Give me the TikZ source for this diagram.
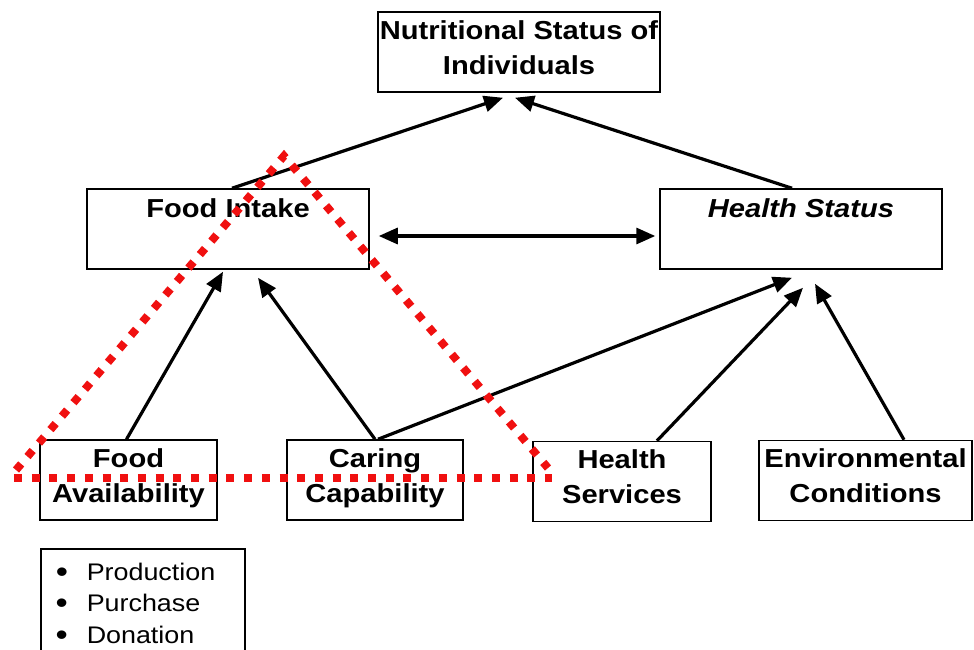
\documentclass[tikz,border=0pt]{standalone}
\usepackage{fontspec}
\setmainfont{Liberation Sans}[FakeStretch=1.12]
\usetikzlibrary{arrows.meta}
\newcommand{\srcitem}{\makebox[31pt][l]{\raisebox{-2pt}{\scalebox{1.3}{•}}}}
\begin{document}
\begin{tikzpicture}[x=1pt,y=-1pt,
  box/.style={draw=black, line width=1.5pt, inner sep=0pt,
    font=\fontsize{26}{35}\selectfont\bfseries, align=center},
  topbox/.style={box, minimum width=282pt, text height=28pt, text depth=52pt},
  lowbox/.style={box, minimum height=80pt, text height=54pt, text depth=10pt},
  tip/.tip={Triangle[length=19pt,width=16pt]},
  link/.style={line width=3.2pt, -tip},
  zone/.style={draw={rgb,255:red,240;green,16;blue,16}, line width=8pt,
    dash pattern=on 8pt off 9.7pt}
]
\useasboundingbox (0,0) rectangle (974,650);

% outcome and its two direct determinants
\node[box, minimum width=282pt, minimum height=80pt, text depth=8pt] (nut) at (519,52)
  {Nutritional Status of\\Individuals};
\node[topbox] (fi) at (228,229) {Food Intake};
\node[topbox, font=\fontsize{26}{35}\selectfont\bfseries\itshape] (hs) at (801,229)
  {Health Status};

% underlying determinants
\node[lowbox, minimum width=177pt] (fa)  at (128.5,480)  {Food\\Availability};
\node[lowbox, minimum width=176pt] (cc)  at (375,480)    {Caring\\Capability};
\node[lowbox, minimum width=178pt] (hsv) at (622,481.5)  {Health\\Services};
\node[lowbox, minimum width=213pt] (env) at (865.5,480.5) {Environmental\\Conditions};

% sources of food availability
\node[draw=black, line width=1.5pt, anchor=north west, inner xsep=15pt, inner ysep=14pt,
  text width=174pt, align=left, font=\fontsize{24}{31.5}\selectfont] (src) at (40,548)
  {\srcitem Production\\
   \srcitem Purchase\\
   \srcitem Donation};

% causal links
\draw[link] ([xshift=4pt]fi.north) -- ([xshift=-16pt,yshift=-5pt]nut.south);
\draw[link] ([xshift=-9pt]hs.north) -- ([xshift=-4pt,yshift=-5pt]nut.south);
\draw[link, tip-tip] ([xshift=9pt,yshift=-7pt]fi.east) -- ([xshift=-4pt,yshift=-7pt]hs.west);
\draw[link] ([xshift=-2pt]fa.north) -- ([xshift=-5pt,yshift=-2pt]fi.south);
\draw[link] (cc.north) -- ([xshift=30pt,yshift=-8pt]fi.south);
\draw[link] ([xshift=3pt]cc.north) -- ([xshift=-9pt,yshift=-8pt]hs.south);
\draw[link] ([xshift=35pt]hsv.north) -- ([xshift=2pt,yshift=-18pt]hs.south);
\draw[link] ([xshift=38.5pt]env.north) -- ([xshift=14pt,yshift=-14pt]hs.south);

% dotted triangle around the food-related factors
\coordinate (apex) at (284,156);
\coordinate (zl) at (16,470);
\coordinate (zr) at (548,468);
\coordinate (hl) at (14,478);
\coordinate (hr) at (552,478);
\draw[zone] (zl) -- (apex) -- (zr);
\draw[zone] (hl) -- (hr);
\end{tikzpicture}
\end{document}
